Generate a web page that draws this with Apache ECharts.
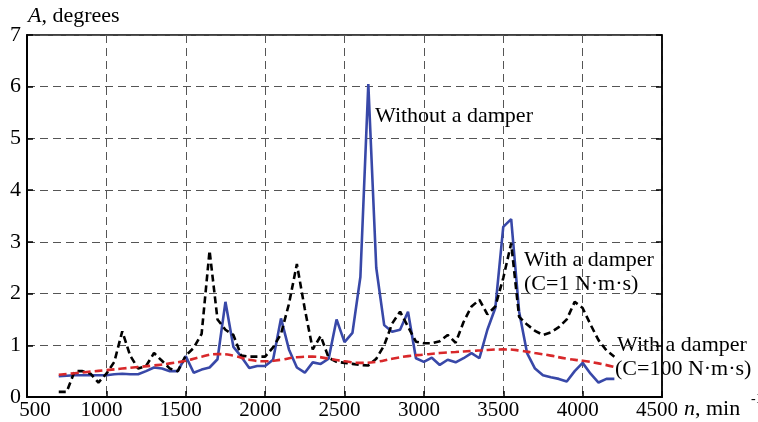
<!DOCTYPE html>
<html><head><meta charset="utf-8">
<script src="https://cdn.jsdelivr.net/npm/echarts@6/dist/echarts.min.js"></script>
<style>html,body{margin:0;padding:0;background:#fff}#c{width:758px;height:422px}</style>
</head><body><div id="c"></div>
<script>
const rpm = [700,750,800,850,900,950,1000,1050,1100,1150,1200,1250,1300,1350,1400,1450,1500,1550,1600,1650,1700,1750,1800,1850,1900,1950,2000,2050,2100,2150,2200,2250,2300,2350,2400,2450,2500,2550,2600,2650,2700,2750,2800,2850,2900,2950,3000,3050,3100,3150,3200,3250,3300,3350,3400,3450,3500,3550,3600,3650,3700,3750,3800,3850,3900,3950,4000,4050,4100,4150,4200];
const withoutDamper = [0.4,0.41,0.42,0.42,0.42,0.42,0.42,0.44,0.45,0.44,0.44,0.5,0.57,0.55,0.5,0.5,0.79,0.47,0.53,0.57,0.73,1.84,0.97,0.78,0.56,0.6,0.6,0.72,1.52,0.92,0.57,0.47,0.67,0.64,0.74,1.5,1.06,1.24,2.32,6.05,2.5,1.39,1.26,1.3,1.65,0.75,0.68,0.76,0.62,0.72,0.67,0.75,0.85,0.75,1.3,1.72,3.29,3.44,1.65,0.85,0.55,0.42,0.38,0.35,0.3,0.5,0.66,0.45,0.28,0.35,0.35];
const damperC1 = [0.1,0.1,0.5,0.5,0.45,0.28,0.45,0.68,1.27,0.8,0.55,0.6,0.85,0.7,0.55,0.5,0.8,0.95,1.22,2.83,1.5,1.3,1.2,0.8,0.78,0.78,0.78,0.96,1.22,1.8,2.57,1.7,0.92,1.18,0.76,0.68,0.66,0.64,0.62,0.61,0.74,1.0,1.42,1.65,1.36,1.07,1.04,1.04,1.08,1.2,1.05,1.45,1.75,1.88,1.6,1.75,2.3,2.97,1.55,1.4,1.28,1.2,1.25,1.35,1.5,1.84,1.72,1.4,1.1,0.9,0.78];
const rpmC100 = [700,800,900,1000,1100,1200,1300,1400,1500,1600,1700,1800,1900,2000,2100,2200,2300,2400,2500,2600,2700,2800,2900,3000,3100,3200,3300,3400,3500,3600,3700,3800,3900,4000,4100,4200];
const damperC100 = [0.43,0.46,0.49,0.52,0.55,0.58,0.61,0.65,0.7,0.78,0.83,0.8,0.72,0.69,0.72,0.77,0.78,0.74,0.69,0.66,0.68,0.74,0.79,0.82,0.85,0.87,0.89,0.91,0.92,0.9,0.85,0.8,0.74,0.7,0.65,0.58];
const xTicks = [500,1000,1500,2000,2500,3000,3500,4000,4500];
const yTicks = [0,1,2,3,4,5,6,7];

const FONT = '"Liberation Serif","Times New Roman",serif';
const chart = echarts.init(document.getElementById('c'), null, {renderer:'canvas'});
const pair = (xs, ys) => xs.map((x,i)=>[x, ys[i]]);
const gridLine = {show:true, lineStyle:{color:'#555', type:[8,5], width:1}};
chart.setOption({
  animation:false,
  backgroundColor:'#fff',
  grid:{left:27, right:96, top:35, bottom:25, show:true, borderColor:'#000', borderWidth:1.5},
  xAxis:{type:'value', min:xTicks[0], max:xTicks[xTicks.length-1], interval:500,
    axisLine:{lineStyle:{color:'#000', width:2}},
    axisTick:{inside:true, length:6, lineStyle:{color:'#000', width:1.5}},
    axisLabel:{color:'#000', fontFamily:FONT, fontSize:21, margin:3,
      formatter:v=> v===xTicks[0] ? '{f|'+v+'}' : '{n|'+v+'}',
      rich:{n:{fontFamily:FONT, fontSize:21, color:'#000', padding:[0,10,0,0]},
            f:{fontFamily:FONT, fontSize:21, color:'#000', padding:[0,0,0,16]}}},
    splitLine:gridLine},
  yAxis:[{type:'value', min:yTicks[0], max:yTicks[yTicks.length-1], interval:1,
    axisLine:{show:true, lineStyle:{color:'#000', width:2}},
    axisTick:{show:true, inside:true, length:6, lineStyle:{color:'#000', width:1.5}},
    axisLabel:{color:'#000', fontFamily:FONT, fontSize:22, margin:6, formatter:v=>String(v)},
    splitLine:gridLine},
   {type:'value', position:'right', min:0, max:7, interval:1,
    axisLine:{show:true, lineStyle:{color:'#000', width:1.5}},
    axisTick:{show:true, inside:true, length:6, lineStyle:{color:'#000', width:1.5}},
    axisLabel:{show:false}, splitLine:{show:false}}],
  series:[
    {name:'Without a damper', type:'line', data:pair(rpm, withoutDamper), showSymbol:false, z:3,
     lineStyle:{color:'#3848a8', width:2.6}},
    {name:'C=1', type:'line', data:pair(rpm, damperC1), showSymbol:false, z:4,
     lineStyle:{color:'#000', width:2.6, type:[7,4]}},
    {name:'C=100', type:'line', data:pair(rpmC100, damperC100), showSymbol:false, smooth:true, z:5,
     lineStyle:{color:'#d8282a', width:2.6, type:[8,4]}}
  ],
  graphic:[
    {type:'text', left:28, top:5, style:{text:'{i|A}, degrees', fill:'#000', font:'22px '+FONT,
      rich:{i:{fontStyle:'italic', fontFamily:FONT, fontSize:22}}}},
    {type:'text', left:684, top:398, style:{text:'{i|n}, min', fill:'#000', font:'22px '+FONT,
      rich:{i:{fontStyle:'italic', fontFamily:FONT, fontSize:22}}}},
    {type:'text', left:751, top:392, style:{text:'-1', fill:'#000', font:'14px '+FONT}},
    {type:'text', left:375, top:105, style:{text:'Without a damper', fill:'#000', font:'22px '+FONT}},
    {type:'text', left:524, top:249, style:{text:'With a damper', fill:'#000', font:'22px '+FONT}},
    {type:'text', left:524, top:273, style:{text:'(C=1 N·m·s)', fill:'#000', font:'22px '+FONT}},
    {type:'text', left:617, top:334, style:{text:'With a damper', fill:'#000', font:'22px '+FONT}},
    {type:'text', left:615, top:358, style:{text:'(C=100 N·m·s)', fill:'#000', font:'22px '+FONT}}
  ]
});
</script></body></html>
